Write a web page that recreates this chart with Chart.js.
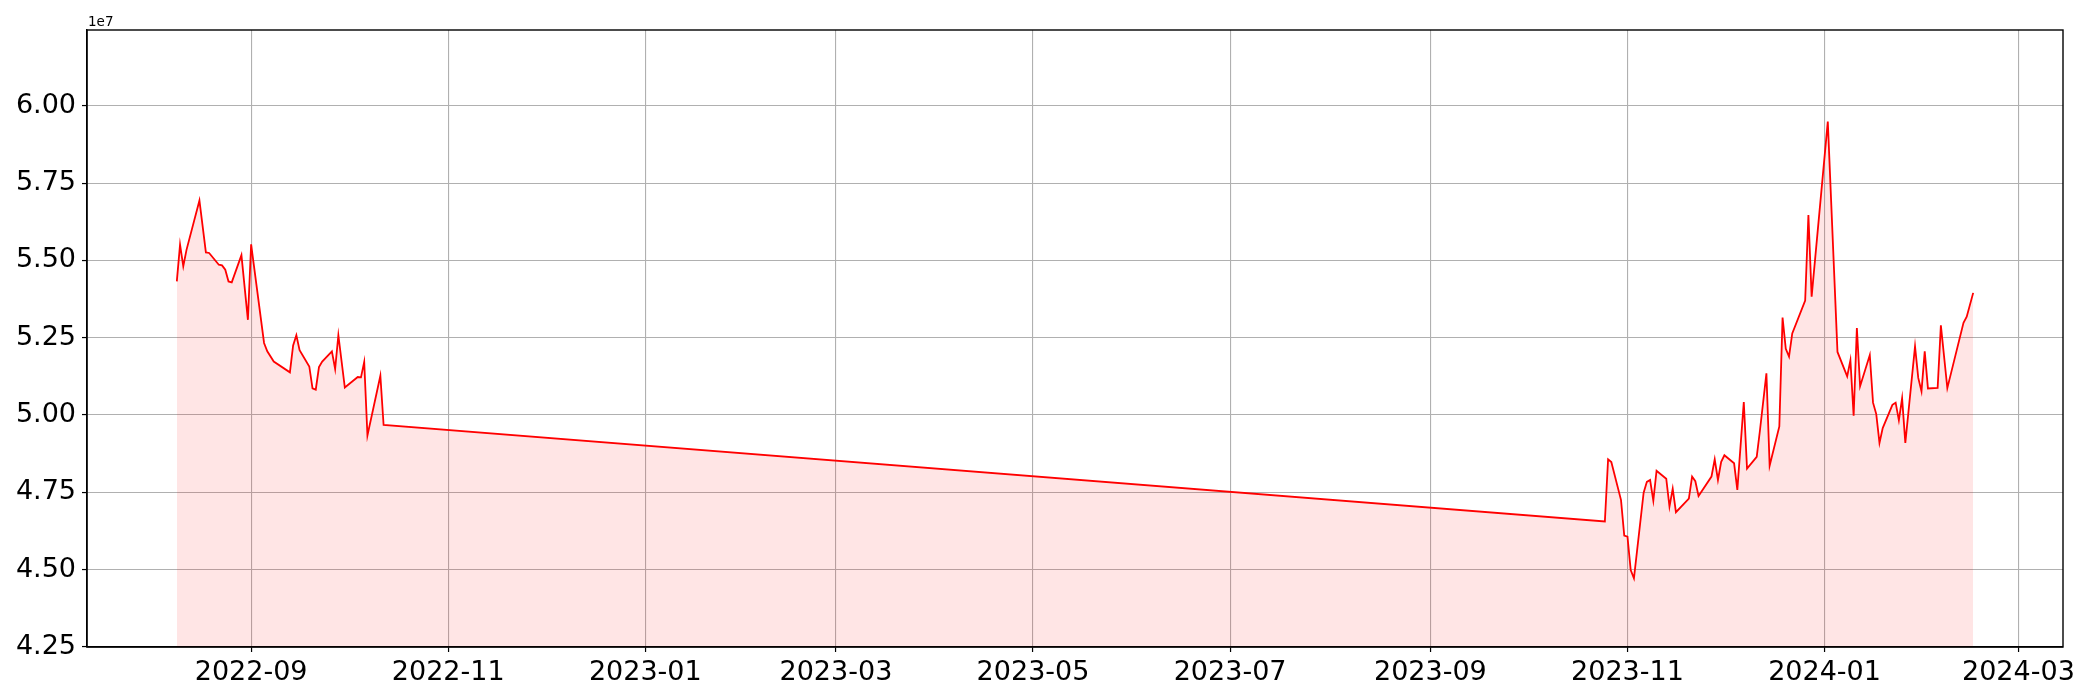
<!DOCTYPE html>
<html>
<head>
<meta charset="utf-8">
<script src="https://cdn.jsdelivr.net/npm/chart.js@4.4.1/dist/chart.umd.min.js"></script>
<style>
  html, body { margin: 0; padding: 0; background: #fff; }
  #wrap { width: 2100px; height: 700px; }
</style>
</head>
<body>
<div id="wrap"><canvas id="chart" width="2100" height="700"></canvas></div>
<script>
// values
const dates = [
  '2022-08-09', '2022-08-10', '2022-08-11', '2022-08-12', '2022-08-16', '2022-08-18', '2022-08-19',
  '2022-08-22', '2022-08-23', '2022-08-24', '2022-08-25', '2022-08-26', '2022-08-29', '2022-08-31',
  '2022-09-01', '2022-09-05', '2022-09-06', '2022-09-08', '2022-09-13', '2022-09-14', '2022-09-15',
  '2022-09-16', '2022-09-19', '2022-09-20', '2022-09-21', '2022-09-22', '2022-09-23', '2022-09-26',
  '2022-09-27', '2022-09-28', '2022-09-30', '2022-10-04', '2022-10-05', '2022-10-06', '2022-10-07',
  '2022-10-11', '2022-10-12',
  '2023-10-25', '2023-10-26', '2023-10-27', '2023-10-30', '2023-10-31', '2023-11-01', '2023-11-02',
  '2023-11-03', '2023-11-06', '2023-11-07', '2023-11-08', '2023-11-09', '2023-11-10', '2023-11-13',
  '2023-11-14', '2023-11-15', '2023-11-16', '2023-11-20', '2023-11-21', '2023-11-22', '2023-11-23',
  '2023-11-27', '2023-11-28', '2023-11-29', '2023-11-30', '2023-12-01', '2023-12-04', '2023-12-05',
  '2023-12-07', '2023-12-08', '2023-12-11', '2023-12-12', '2023-12-14', '2023-12-15', '2023-12-18',
  '2023-12-19', '2023-12-20', '2023-12-21', '2023-12-22', '2023-12-26', '2023-12-27', '2023-12-28',
  '2024-01-02', '2024-01-05', '2024-01-08', '2024-01-09', '2024-01-10', '2024-01-11', '2024-01-12',
  '2024-01-15', '2024-01-16', '2024-01-17', '2024-01-18', '2024-01-19', '2024-01-22', '2024-01-23',
  '2024-01-24', '2024-01-25', '2024-01-26', '2024-01-29', '2024-01-30', '2024-01-31', '2024-02-01',
  '2024-02-02', '2024-02-05', '2024-02-06', '2024-02-08', '2024-02-13', '2024-02-14', '2024-02-16'
];

const values = [
  54320000, 55510000, 54810000, 55340000, 56940000, 55260000, 55240000,
  54860000, 54840000, 54700000, 54320000, 54290000, 55170000, 53080000,
  55520000, 52330000, 52060000, 51730000, 51380000, 52250000, 52580000,
  52100000, 51570000, 50860000, 50820000, 51550000, 51730000, 52060000,
  51490000, 52580000, 50890000, 51230000, 51220000, 51720000, 49340000,
  51270000, 49680000,
  46560000, 48570000, 48480000, 47250000, 46100000, 46070000, 44990000,
  44720000, 47490000, 47840000, 47900000, 47230000, 48200000, 47940000,
  47040000, 47620000, 46860000, 47300000, 48010000, 47860000, 47380000,
  48010000, 48570000, 47900000, 48490000, 48700000, 48440000, 47580000,
  50420000, 48270000, 48650000, 49500000, 51350000, 48360000, 49630000,
  53150000, 52140000, 51890000, 52640000, 53700000, 56470000, 53830000,
  59490000, 52040000, 51250000, 51770000, 49980000, 52810000, 50930000,
  51940000, 50400000, 50030000, 49100000, 49580000, 50330000, 50400000,
  49830000, 50540000, 49100000, 52220000, 51200000, 50770000, 52060000,
  50860000, 50880000, 52900000, 50870000, 52980000, 53180000, 53950000
];

const xTickLabels = ['2022-09', '2022-11', '2023-01', '2023-03', '2023-05', '2023-07',
                     '2023-09', '2023-11', '2024-01', '2024-03'];
const yTicks = [42500000, 45000000, 47500000, 50000000, 52500000, 55000000, 57500000, 60000000];

function dayOf(s) {
  const p = s.split('-').map(Number);
  return Date.UTC(p[0], p[1] - 1, p[2] || 1) / 86400000;
}

const points = dates.map((d, i) => ({ x: dayOf(d), y: values[i] }));
const first = points[0].x;
const last = points[points.length - 1].x;
const margin = (last - first) * 0.05;

const tickFont = { family: 'DejaVu Sans', size: 27 };

const framePlugin = {
  id: 'frame',
  afterDatasetsDraw(chart) {
    const { ctx, chartArea: a } = chart;
    ctx.save();
    ctx.strokeStyle = '#000';
    ctx.lineWidth = 1.4;
    ctx.strokeRect(a.left, a.top, a.right - a.left, a.bottom - a.top);
    ctx.fillStyle = '#000';
    ctx.font = '13.5px "DejaVu Sans"';
    ctx.textAlign = 'left';
    ctx.textBaseline = 'alphabetic';
    ctx.fillText('1e7', a.left + 1, a.top - 4.5);
    ctx.restore();
  }
};

new Chart('chart', {
  type: 'line',
  data: {
    datasets: [{
      data: points,
      borderColor: 'red',
      borderWidth: 1.8,
      backgroundColor: 'rgba(255, 0, 0, 0.1)',
      fill: 'start',
      pointRadius: 0,
      tension: 0
    }]
  },
  options: {
    responsive: false,
    animation: false,
    devicePixelRatio: 1,
    layout: { padding: { top: 30, right: 37, left: 0, bottom: 0 } },
    plugins: { legend: { display: false }, tooltip: { enabled: false } },
    scales: {
      x: {
        type: 'linear',
        min: first - margin,
        max: last + margin,
        afterFit(scale) { scale.height = 53; },
        afterBuildTicks(scale) { scale.ticks = xTickLabels.map(l => ({ value: dayOf(l) })); },
        ticks: {
          callback: (v, i) => xTickLabels[i],
          font: tickFont, color: '#000', maxRotation: 0, autoSkip: false, padding: 5
        },
        grid: { color: '#b0b0b0', lineWidth: 1.1, tickColor: '#000', tickLength: 5, tickWidth: 1.2 },
        border: { color: '#000', width: 1.4 }
      },
      y: {
        min: 42500000,
        max: 62450000,
        afterFit(scale) { scale.width = 87; },
        afterBuildTicks(scale) { scale.ticks = yTicks.map(v => ({ value: v })); },
        ticks: {
          callback: v => (v / 1e7).toFixed(2),
          font: tickFont, color: '#000', padding: 6
        },
        grid: { color: '#b0b0b0', lineWidth: 1.1, tickColor: '#000', tickLength: 5, tickWidth: 1.2 },
        border: { color: '#000', width: 1.4 }
      }
    }
  },
  plugins: [framePlugin]
});
</script>
</body>
</html>
